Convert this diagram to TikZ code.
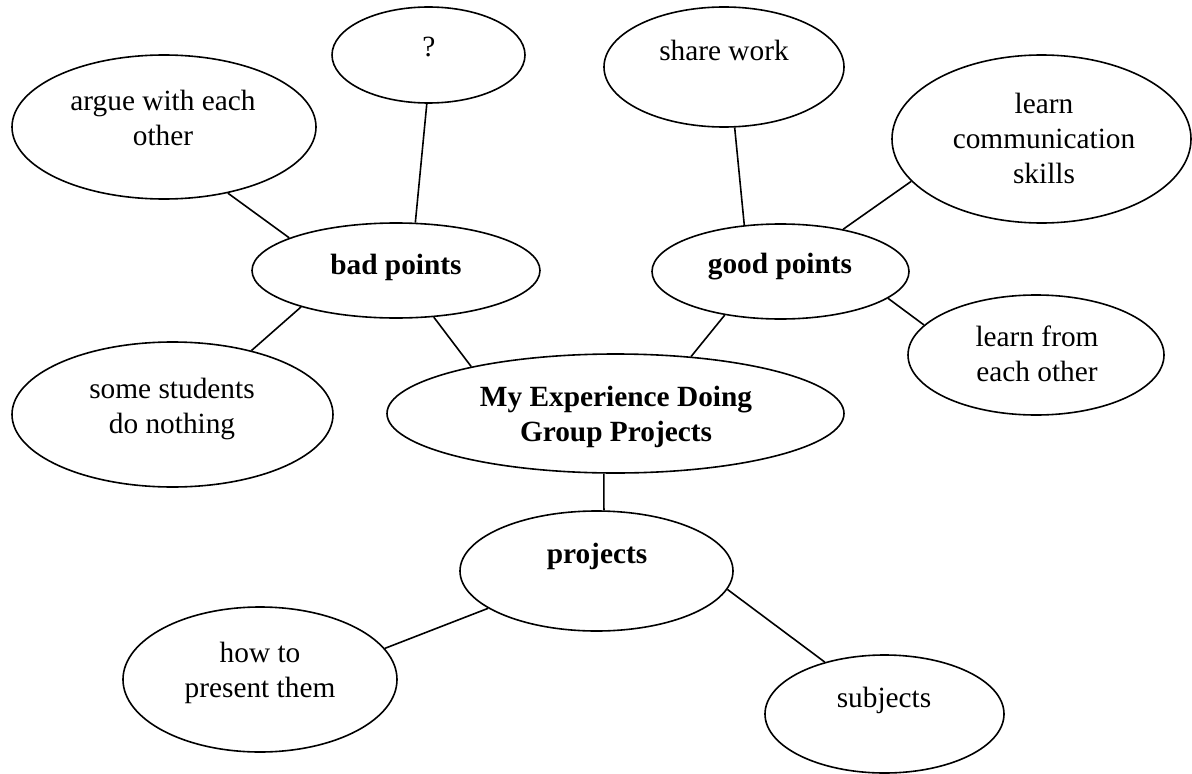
\documentclass[tikz,border=0pt]{standalone}
\usepackage{fontspec}
\setmainfont{Liberation Serif}
\usetikzlibrary{shapes.geometric}

\tikzset{
  bubble/.style 2 args={draw, ellipse, line width=1.2pt, inner sep=0pt, minimum width=#1*1.5pt, minimum height=#2*1.5pt},
  lbl/.style={inner sep=0pt, anchor=base, align=center, font=\fontsize{22}{25.9}\selectfont},
  hdl/.style={lbl, font=\fontsize{22}{25.9}\selectfont\bfseries},
  link/.style={line width=1.2pt},
}

\begin{document}
\begin{tikzpicture}[x=0.75pt,y=0.75pt,yscale=-1,xscale=1]
        \useasboundingbox (0,0) rectangle (1192,774);
        %Shape: Ellipse
        \node [bubble={96.5}{48}] (q) at (428.5,55) {};
        %Shape: Ellipse
        \node [bubble={152}{72}] (argue) at (164,127) {};
        %Shape: Ellipse
        \node [bubble={120}{60}] (share) at (724,67) {};
        %Shape: Ellipse
        \node [bubble={149.5}{84}] (comm) at (1041.5,139) {};
        %Shape: Ellipse
        \node [bubble={144}{47.5}] (bad) at (396,270.5) {};
        %Shape: Ellipse
        \node [bubble={128.5}{47.5}] (good) at (780.5,271.5) {};
        %Shape: Ellipse
        \node [bubble={128}{60}] (from) at (1036,355) {};
        %Shape: Ellipse
        \node [bubble={160.5}{72.5}] (some) at (172.5,414.5) {};
        %Shape: Ellipse
        \node [bubble={228.5}{59.5}] (main) at (615.5,413.5) {};
        %Shape: Ellipse
        \node [bubble={136.5}{60}] (proj) at (596.5,571) {};
        %Shape: Ellipse
        \node [bubble={137}{72.5}] (how) at (260,679.5) {};
        %Shape: Ellipse
        \node [bubble={119.5}{59}] (subj) at (884.5,714) {};

        % Text Node (base = last line)
        \node [lbl] (q-t) at (429,57) {?};
        % Text Node
        \node [lbl] (argue-t) at (163,145) {argue with each\\other};
        % Text Node
        \node [lbl] (share-t) at (724,61) {share work};
        % Text Node
        \node [lbl] (comm-t) at (1044,183) {learn\\communication\\skills};
        % Text Node
        \node [hdl] (bad-t) at (396,274) {bad points};
        % Text Node
        \node [hdl] (good-t) at (780,273) {good points};
        % Text Node
        \node [lbl] (from-t) at (1037,381) {learn from\\each other};
        % Text Node
        \node [lbl] (some-t) at (172,433) {some students\\do nothing};
        % Text Node
        \node [hdl] (main-t) at (616,441) {My Experience Doing\\Group Projects};
        % Text Node
        \node [hdl] (proj-t) at (597,563) {projects};
        % Text Node
        \node [lbl] (how-t) at (260,697) {how to\\present them};
        % Text Node
        \node [lbl] (subj-t) at (884,707) {subjects};

        %Straight Lines
        \draw [link] (q.268) -- (bad.68);
        \draw [link] (argue.-46) -- (bad.163);
        \draw [link] (some.39) -- (bad.201);
        \draw [link] (bad.-51) -- (main.162);
        \draw [link] (share.-80) -- (good.128);
        \draw [link] (comm.198) -- (good.34);
        \draw [link] (good.-14) -- (from.165);
        \draw [link] (good.218) -- (main.37);
        \draw [link] (main.259) -- (proj.83);
        \draw [link] (proj.199) -- (how.14);
        \draw [link] (proj.-8) -- (subj.139);
\end{tikzpicture}
\end{document}
